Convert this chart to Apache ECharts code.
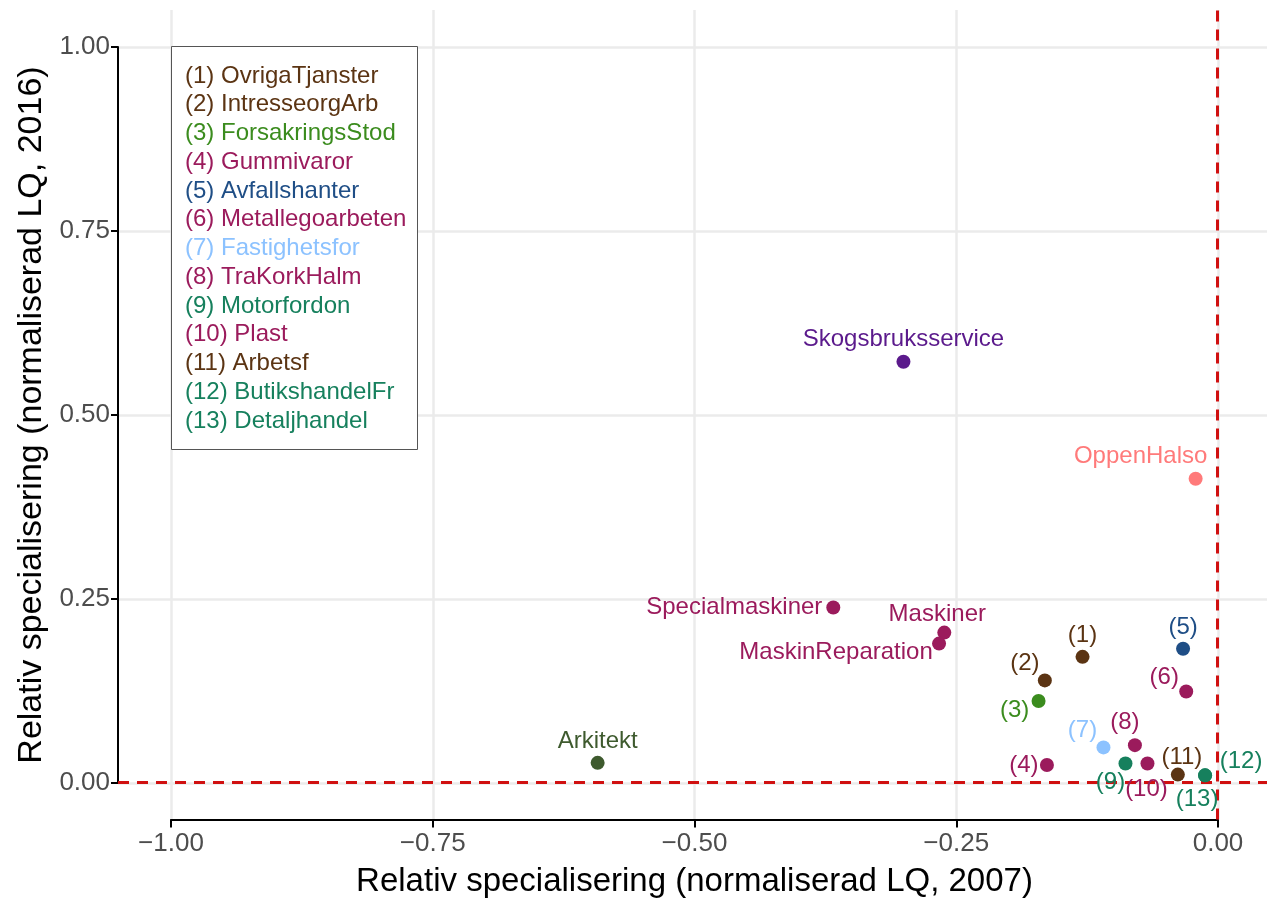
<!DOCTYPE html>
<html>
<head>
<meta charset="utf-8">
<script src="https://cdn.jsdelivr.net/npm/echarts@6/dist/echarts.min.js"></script>
<style>
  html, body {margin: 0; padding: 0; background: #fff;}
  #chart {width: 1267px; height: 901px;}
</style>
</head>
<body>
<div id="chart"></div>
<script>
// punkter: relativ specialisering 2007 (x) och 2016 (y)
const pointLabels = ['Skogsbruksservice', 'OppenHalso', 'Specialmaskiner', 'Maskiner', 'MaskinReparation', 'Arkitekt',
    '(1)', '(2)', '(3)', '(4)', '(5)', '(6)', '(7)', '(8)', '(9)', '(10)', '(11)', '(12)', '(13)']
const lq2007 = [-0.300, -0.021, -0.367, -0.261, -0.266, -0.592,
    -0.129, -0.165, -0.171, -0.163, -0.033, -0.030, -0.109, -0.079, -0.088, -0.067, -0.038, -0.012, -0.012]
const lq2016 = [0.572, 0.413, 0.238, 0.204, 0.189, 0.027,
    0.171, 0.139, 0.111, 0.024, 0.182, 0.124, 0.048, 0.051, 0.026, 0.026, 0.011, 0.010, 0.010]

// förklaringsrutan
const legendNames = ['(1) OvrigaTjanster', '(2) IntresseorgArb', '(3) ForsakringsStod', '(4) Gummivaror',
    '(5) Avfallshanter', '(6) Metallegoarbeten', '(7) Fastighetsfor', '(8) TraKorkHalm', '(9) Motorfordon',
    '(10) Plast', '(11) Arbetsf', '(12) ButikshandelFr', '(13) Detaljhandel']

const xTicks = [-1.00, -0.75, -0.50, -0.25, 0.00]
const yTicks = [0.00, 0.25, 0.50, 0.75, 1.00]

// färger
const brown = '#5b3413', green = '#3b8c1e', maroon = '#9b1b5c', navy = '#1f4e86',
    lightBlue = '#8cc2ff', teal = '#16805d'
const pointColors = ['#5b1a8c', '#ff7a7a', maroon, maroon, maroon, '#3e5a2e',
    brown, brown, green, maroon, navy, maroon, lightBlue, maroon, teal, maroon, brown, teal, teal]
const legendColors = [brown, brown, green, maroon, navy, maroon, lightBlue, maroon, teal, maroon, brown, teal, teal]

// etikettens förskjutning från punkten (px)
const labelOffsets = [[0, -22], [-55, -22], [-99, 0], [-7, -18], [-103, 9], [0, -21],
    [0, -21], [-20, -17], [-24, 9], [-23, 0], [0, -21], [-22, -14], [-21, -17], [-10, -23],
    [-15, 19], [-1, 26], [4, -17], [36, -14], [-8, 24]]

const font = 'Liberation Sans, Arial, sans-serif'

const chart = echarts.init(document.getElementById('chart'))

const pointData = pointLabels.map((name, i) => ({
    name: name,
    value: [lq2007[i], lq2016[i]],
    itemStyle: {color: pointColors[i], opacity: 1},
    label: {
        show: true,
        position: 'inside',
        offset: labelOffsets[i],
        formatter: name,
        color: pointColors[i],
        fontSize: 24,
        fontFamily: font,
    }
}))

const legendGraphics = [{
    type: 'rect',
    left: 171,
    top: 46,
    shape: {width: 246, height: 403},
    style: {fill: '#fff', stroke: '#555', lineWidth: 1},
    z: 10,
}]
legendNames.forEach((txt, i) => {
    legendGraphics.push({
        type: 'text',
        left: 185,
        top: 75 + i * 28.75 - 11,
        style: {text: txt, fill: legendColors[i], font: '24px ' + font},
        z: 11,
    })
})

const gridColor = '#ebebeb'

const option = {
    animation: false,
    backgroundColor: '#fff',
    grid: [
        // huvudpanel
        {left: 118, top: 10, width: 1152, height: 809.5, outerBoundsMode: 'none', containLabel: false},
        // x-axelns ramlinje
        {left: 171, top: 10, width: 1047, height: 809.5, outerBoundsMode: 'none', containLabel: false},
        // y-axelns ramlinje
        {left: 118, top: 47, width: 1152, height: 736, outerBoundsMode: 'none', containLabel: false},
    ],
    xAxis: [
        {gridIndex: 0, type: 'value', min: -1.05, max: 0.05, show: false},
        {
            gridIndex: 1, type: 'value', min: xTicks[0], max: xTicks[xTicks.length - 1], interval: 0.25,
            position: 'bottom',
            axisLine: {show: true, onZero: false, lineStyle: {color: '#000', width: 2}},
            axisTick: {show: true, length: 8, lineStyle: {color: '#000', width: 2}},
            axisLabel: {
                margin: 11, color: '#4d4d4d', fontSize: 26, fontFamily: font,
                formatter: v => (v < 0 ? '\u2212' : '') + Math.abs(v).toFixed(2)
            },
            splitLine: {show: true, lineStyle: {color: gridColor, width: 2.5}},
            name: 'Relativ specialisering (normaliserad LQ, 2007)',
            nameLocation: 'middle',
            nameGap: 46,
            nameTextStyle: {color: '#000', fontSize: 33, fontFamily: font},
        },
        {gridIndex: 2, type: 'value', min: -1.05, max: 0.05, show: false},
    ],
    yAxis: [
        {gridIndex: 0, type: 'value', min: -0.05, max: 1.05, show: false},
        {gridIndex: 1, type: 'value', min: -0.05, max: 1.05, show: false},
        {
            gridIndex: 2, type: 'value', min: yTicks[0], max: yTicks[yTicks.length - 1], interval: 0.25,
            position: 'left',
            axisLine: {show: true, onZero: false, lineStyle: {color: '#000', width: 2}},
            axisTick: {show: true, length: 7, lineStyle: {color: '#000', width: 2}},
            axisLabel: {
                margin: 8, color: '#4d4d4d', fontSize: 26, fontFamily: font,
                formatter: v => v.toFixed(2)
            },
            splitLine: {show: true, lineStyle: {color: gridColor, width: 2.5}},
            name: 'Relativ specialisering (normaliserad LQ, 2016)',
            nameLocation: 'middle',
            nameGap: 57,
            nameTextStyle: {color: '#000', fontSize: 34, fontFamily: font},
        },
    ],
    graphic: legendGraphics,
    series: [{
        type: 'scatter',
        xAxisIndex: 0,
        yAxisIndex: 0,
        symbolSize: 14,
        silent: true,
        clip: false,
        data: pointData,
        markLine: {
            silent: true,
            symbol: 'none',
            label: {show: false},
            lineStyle: {color: '#d01010', type: [11, 8], width: 3, opacity: 1},
            data: [{xAxis: 0}, {yAxis: 0}],
            z: 1,
        },
        z: 5,
    }],
}

chart.setOption(option)
</script>
</body>
</html>
